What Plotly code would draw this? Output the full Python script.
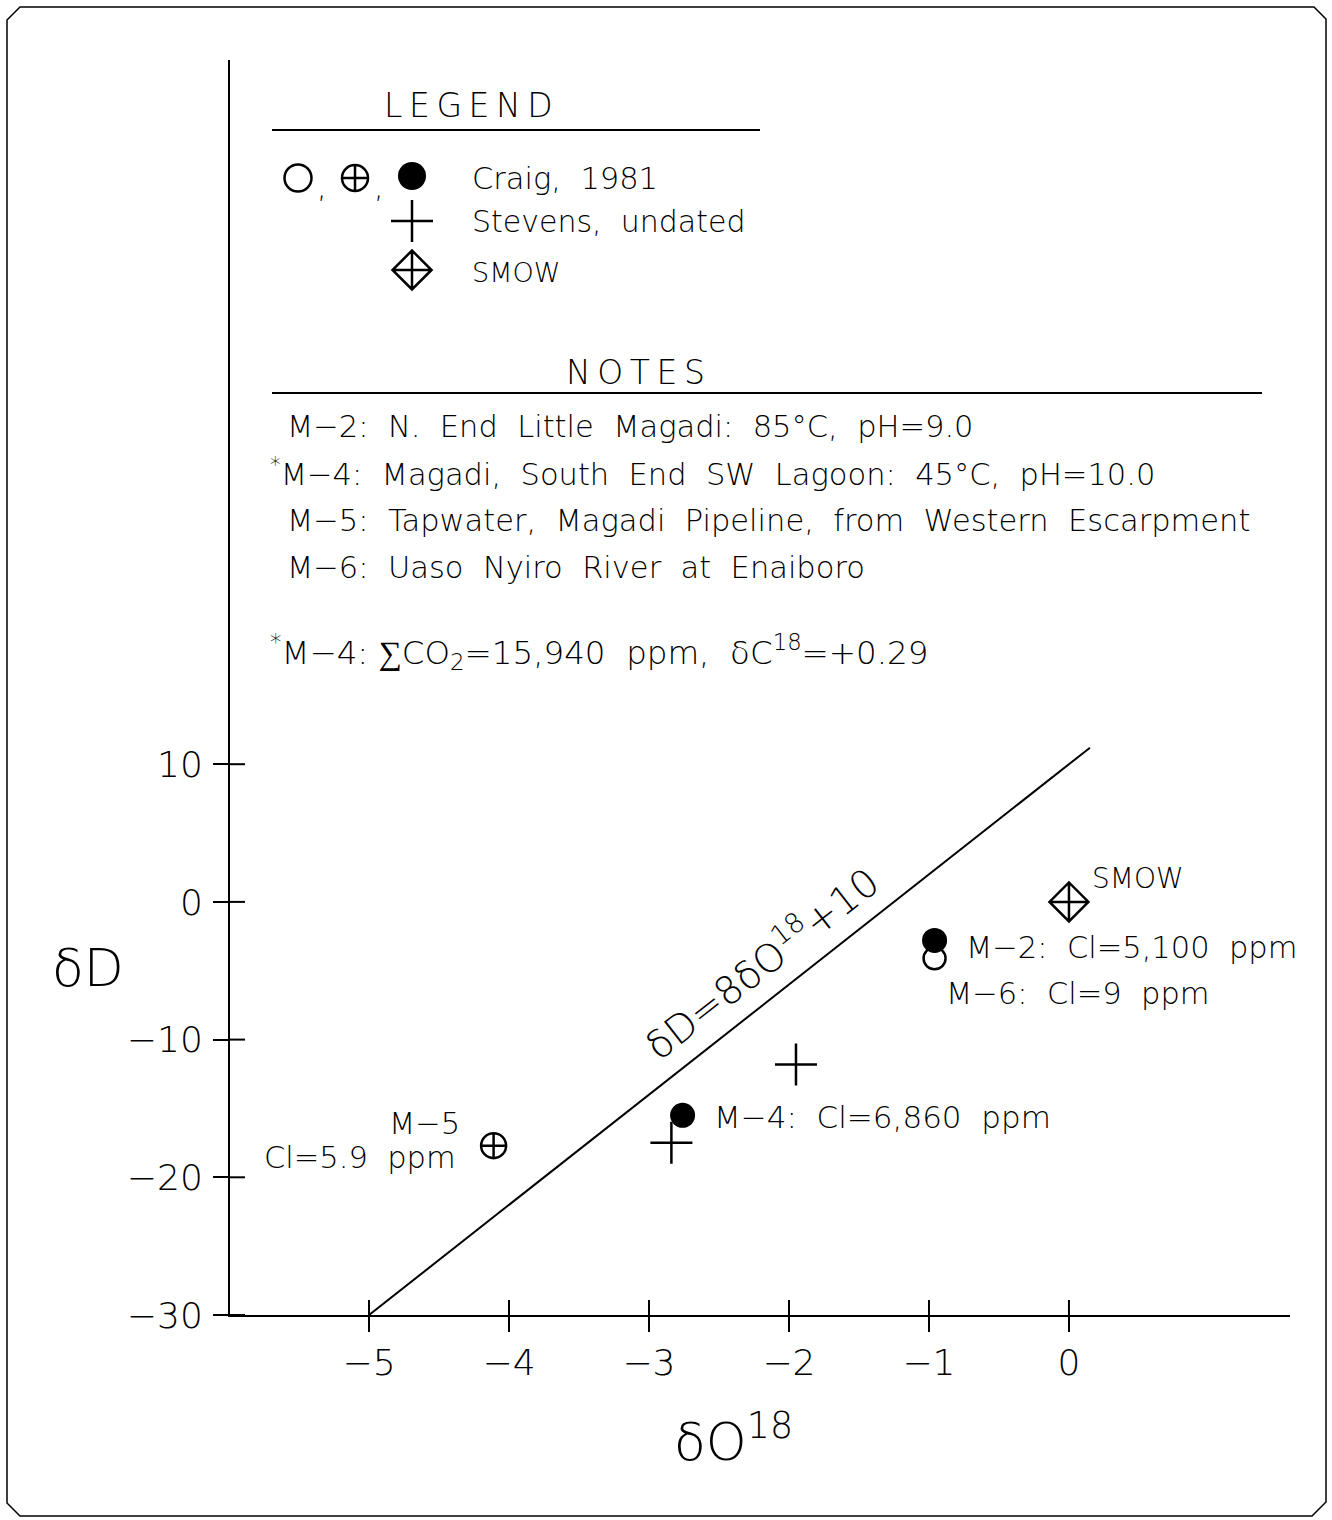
import plotly.graph_objects as go

# ---- data -------------------------------------------------------------
# Craig, 1981 samples (delta O-18, delta D)
craig_filled_x = [-0.96, -2.76]          # M-2, M-4
craig_filled_y = [-2.8, -15.5]
craig_open_x = [-0.96]                   # M-6
craig_open_y = [-4.1]
craig_cross_x = [-4.11]                  # M-5
craig_cross_y = [-17.7]
# Stevens, undated
stevens_x = [-2.84, -1.95]
stevens_y = [-17.5, -11.8]
# Standard mean ocean water
smow_x = [0.0]
smow_y = [0.0]
# Meteoric water line dD = 8 dO18 + 10
mwl_x = [-5.0, 0.15]
mwl_y = [-30.0, 11.2]

x_ticks = [-5, -4, -3, -2, -1, 0]
y_ticks = [-30, -20, -10, 0, 10]

TS = "\u2009"   # thin space used for letter-spaced headings
legend_title = TS.join("LEGEND")
notes_title = TS.join("NOTES")
legend_entries = ["Craig,  1981", "Stevens,  undated", "SMOW"]
notes = [
    "M−2:  N.  End  Little  Magadi:  85°C,  pH=9.0",
    "M−4:  Magadi,  South  End  SW  Lagoon:  45°C,  pH=10.0",
    "M−5:  Tapwater,  Magadi  Pipeline,  from  Western  Escarpment",
    "M−6:  Uaso  Nyiro  River  at  Enaiboro",
]
footnote = "M−4: ∑CO<sub>2</sub>=15,940  ppm,  δC<sup>18</sup>=+0.29"

# ---- page geometry ----------------------------------------------------
W, H = 1332, 1520
L, R, T, B = 230, 42, 60, 205
X_RANGE = [-5.993, 1.579]
Y_RANGE = [-30.0, 61.14]
FONT = "DejaVu Sans"
WEIGHT = 200
INK = "black"


def px(x, y):
    """Canvas pixel position -> paper coordinates."""
    return (x - L) / (W - L - R), (H - B - y) / (H - T - B)


fig = go.Figure()

fig.add_trace(go.Scatter(x=mwl_x, y=mwl_y, mode="lines",
                         line=dict(color=INK, width=2), hoverinfo="skip"))
fig.add_trace(go.Scatter(x=craig_open_x, y=craig_open_y, mode="markers",
                         marker=dict(symbol="circle-open", size=22, color=INK,
                                     line=dict(color=INK, width=2.5))))
fig.add_trace(go.Scatter(x=craig_filled_x, y=craig_filled_y, mode="markers",
                         marker=dict(symbol="circle", size=25, color=INK,
                                     line=dict(width=0))))
fig.add_trace(go.Scatter(x=craig_cross_x, y=craig_cross_y, mode="markers",
                         marker=dict(symbol="circle-cross-open", size=25,
                                     color=INK,
                                     line=dict(color=INK, width=2.5))))
fig.add_trace(go.Scatter(x=stevens_x, y=stevens_y, mode="markers",
                         marker=dict(symbol="cross-thin-open", size=30,
                                     color=INK,
                                     line=dict(color=INK, width=2.5))))
fig.add_trace(go.Scatter(x=smow_x, y=smow_y, mode="markers",
                         marker=dict(symbol="diamond-cross-open", size=30,
                                     color=INK,
                                     line=dict(color=INK, width=2.5))))

# ---- legend key symbols (overlay axes in paper units) -----------------
key_pos = {
    "open": px(298, 178), "cross": px(355, 178), "filled": px(412, 176),
    "plus": px(412, 221), "smow": px(412, 270),
}
key_style = [
    ("open", "circle-open", 27, 2.5),
    ("cross", "circle-cross-open", 26, 2.5),
    ("filled", "circle", 28, 0),
    ("plus", "cross-thin-open", 30, 2.5),
    ("smow", "diamond-cross-open", 30, 2.5),
]
for key, sym, size, lw in key_style:
    kx, ky = key_pos[key]
    mk = dict(symbol=sym, size=size, color=INK,
              line=dict(color=INK, width=lw))
    fig.add_trace(go.Scatter(x=[kx], y=[ky], xaxis="x2", yaxis="y2",
                             mode="markers", marker=mk, hoverinfo="skip"))

annotations = []


def text(x, y, s, size=30, xanchor="left", yanchor="middle", angle=0):
    ax, ay = px(x, y)
    annotations.append(dict(x=ax, y=ay, xref="paper", yref="paper", text=s,
                            showarrow=False, xanchor=xanchor, yanchor=yanchor,
                            textangle=angle,
                            font=dict(family=FONT, size=size, color=INK,
                                      weight=WEIGHT)))


# commas between the Craig symbols
text(322, 186, ",", 30, "center")
text(379, 186, ",", 30, "center")

text(468, 106, legend_title, 33, "center")
text(470, 178, legend_entries[0], 30.5)
text(470, 221, legend_entries[1], 30)
text(470, 272, legend_entries[2], 27)

text(635, 373, notes_title, 33, "center")
note_rows = [426, 472, 520, 567]
for i, (row, s) in enumerate(zip(note_rows, notes)):
    prefix = "<sup>*</sup>" if i == 1 else ""
    text(285 if not prefix else 268, row, prefix + s, 30.5)
text(268, 652, "<sup>*</sup>" + footnote, 32.5)

# point labels
text(1090, 879, "SMOW", 28)
text(964, 947, "M−2:  Cl=5,100  ppm", 30.5)
text(944, 993, "M−6:  Cl=9  ppm", 30.5)
text(712, 1117, "M−4:  Cl=6,860  ppm", 31)
text(424, 1123, "M−5", 30.5, "center")
text(458, 1157, "Cl=5.9  ppm", 30.5, "right")

# line label and axis titles
text(760, 962, "δD=8δO<sup>18</sup>+10", 39, "center", "middle", -38)
text(88, 968, "δD", 52, "center")
text(733, 1438, "δO<sup>18</sup>", 52, "center")

# ---- shapes: rules, inner tick halves, page frame ---------------------
shapes = []
for y0, xa, xb in [(130, 272, 760), (393, 272, 1262)]:
    a, b = px(xa, y0), px(xb, y0)
    shapes.append(dict(type="line", xref="paper", yref="paper",
                       x0=a[0], y0=a[1], x1=b[0], y1=b[1],
                       line=dict(color=INK, width=1.8)))
for t in x_ticks:
    shapes.append(dict(type="line", xref="x", yref="y", ysizemode="pixel",
                       yanchor=Y_RANGE[0], x0=t, x1=t, y0=0, y1=15,
                       line=dict(color=INK, width=2)))
for t in y_ticks:
    shapes.append(dict(type="line", xref="x", yref="y", xsizemode="pixel",
                       xanchor=X_RANGE[0], y0=t, y1=t, x0=0, x1=15,
                       line=dict(color=INK, width=2)))

frame_pts = [(7, 20), (20, 7), (1314, 7), (1326, 19), (1326, 1502),
             (1312, 1516), (20, 1516), (7, 1503)]
path = "M " + " L ".join("%f,%f" % px(a, b) for a, b in frame_pts) + " Z"
shapes.append(dict(type="path", xref="paper", yref="paper", path=path,
                   line=dict(color=INK, width=1.5)))

axis_common = dict(showline=True, linecolor=INK, linewidth=2, ticks="outside",
                   ticklen=15, tickwidth=2, tickcolor=INK, showgrid=False,
                   zeroline=False, fixedrange=True,
                   tickfont=dict(family=FONT, size=36, color=INK,
                                 weight=WEIGHT))

fig.update_layout(
    width=W, height=H,
    margin=dict(l=L, r=R, t=T, b=B),
    paper_bgcolor="white", plot_bgcolor="white",
    showlegend=False,
    xaxis=dict(range=X_RANGE, tickvals=x_ticks, **axis_common),
    yaxis=dict(range=Y_RANGE, tickvals=y_ticks, ticklabelstandoff=3,
               **axis_common),
    xaxis2=dict(range=[0, 1], overlaying="x", visible=False, fixedrange=True),
    yaxis2=dict(range=[0, 1], overlaying="y", visible=False, fixedrange=True),
    annotations=annotations,
    shapes=shapes,
)

fig.write_html("out.html")
